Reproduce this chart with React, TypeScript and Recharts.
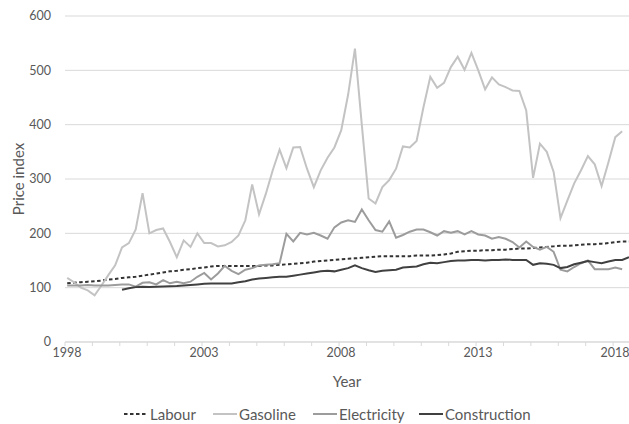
import React from 'react';
import { LineChart, Line, XAxis, YAxis, CartesianGrid, Legend, Label } from 'recharts';

const FONT = 'Lato, "Noto Sans", sans-serif';
const TEXT = '#595959';
const GRID = '#d9d9d9';

const startYear = 1998;
const quarterCount = 83;

// quarterly price indices
const labour = [
  108, 109, 110, 111, 112, 113, 115, 116, 118, 119,
  120, 122, 124, 126, 128, 130, 131, 133, 134, 136,
  137, 139, 140, 140, 140, 140, 140, 140, 140, 141,
  141, 142, 143, 144, 145, 146, 148, 149, 150, 151,
  152, 153, 154, 155, 156, 157, 158, 158, 158, 158,
  158, 159, 159, 159, 160, 161, 163, 166, 167, 168,
  168, 169, 169, 170, 170, 171, 172, 172, 173, 174,
  175, 176, 177, 177, 178, 179, 180, 180, 181, 182,
  184, 185, 185,
];

const gasoline = [
  118, 110, 100, 95, 86, 104, 123, 141, 174, 182,
  207, 274, 200, 206, 209, 184, 156, 187, 175, 200,
  182, 182, 176, 178, 184, 196, 224, 290, 235, 273,
  316, 354, 320, 358, 359, 319, 285, 316, 339, 358,
  390, 455, 540, 400, 264, 255, 285, 298, 319, 360,
  358, 370, 432, 488, 468, 477, 506, 525, 501, 532,
  500, 465, 487, 474, 469, 463, 462, 426, 302, 365,
  350, 313, 228, 260, 292, 316, 342, 327, 287, 331,
  377, 388,
];

const electricity = [
  104, 104, 104, 105, 104, 104, 104, 105, 106, 106,
  102, 109, 110, 106, 114, 108, 111, 108, 111, 120,
  127, 115, 126, 140, 131, 125, 133, 136, 141, 142,
  143, 145, 199, 185, 201, 198, 201, 196, 190, 211,
  220, 224, 221, 244, 224, 206, 203, 222, 192, 197,
  203, 207, 207, 202, 196, 204, 201, 204, 198, 204,
  198, 196, 190, 193, 190, 184, 174, 185, 175, 170,
  175, 166, 133, 130, 138, 145, 150, 134, 134, 134,
  137, 134,
];

const constructionStartIndex = 8;
const construction = [
  96, 99, 101, 101.5, 101, 101.5, 102, 102.5, 103, 104,
  105, 106, 107, 107.5, 107.5, 107.5, 107.5, 110, 112, 115,
  117, 118, 119, 120, 120, 122, 124, 126, 128, 130,
  131, 130, 133, 136, 141, 136, 132, 129, 131, 132,
  133, 137, 138, 139, 143, 146, 145, 147, 149, 150,
  150, 151, 151, 150, 151, 151, 152, 151, 151, 151,
  142, 145, 144, 142, 136, 138, 143, 146, 149, 147,
  145, 148, 151, 151, 156,
];

const yTicks = [0, 100, 200, 300, 400, 500, 600];
const xTicks = [
  1998, 1999, 2000, 2001, 2002, 2003, 2004, 2005, 2006, 2007, 2008,
  2009, 2010, 2011, 2012, 2013, 2014, 2015, 2016, 2017, 2018,
];
const labeledYears = [1998, 2003, 2008, 2013, 2018];

const series = [
  { key: 'labour', name: 'Labour', color: '#333333', dash: '3.5 2.5' },
  { key: 'gasoline', name: 'Gasoline', color: '#c3c3c3', dash: undefined },
  { key: 'electricity', name: 'Electricity', color: '#9c9c9c', dash: undefined },
  { key: 'construction', name: 'Construction', color: '#404040', dash: undefined },
];

const data = Array.from({ length: quarterCount }, (_, i) => ({
  t: startYear + 0.08 + i * 0.25,
  labour: i < labour.length ? labour[i] : null,
  gasoline: i < gasoline.length ? gasoline[i] : null,
  electricity: i < electricity.length ? electricity[i] : null,
  construction:
    i >= constructionStartIndex && i - constructionStartIndex < construction.length
      ? construction[i - constructionStartIndex]
      : null,
}));

const legendLeft = [124, 213, 313, 419];

const LegendContent = () => (
  <div
    style={{
      position: 'relative',
      width: 629,
      height: 20,
      fontFamily: FONT,
      fontSize: 15,
      color: TEXT,
    }}
  >
    {series.map((s, k) => (
      <div
        key={s.key}
        style={{
          position: 'absolute',
          left: legendLeft[k],
          top: 0,
          height: 20,
          display: 'flex',
          alignItems: 'center',
          whiteSpace: 'nowrap',
        }}
      >
        <svg width={24} height={20} style={{ display: 'block' }}>
          <line
            x1={0}
            x2={24}
            y1={10}
            y2={10}
            stroke={s.color}
            strokeWidth={2}
            strokeDasharray={s.dash}
          />
        </svg>
        <span style={{ marginLeft: 2 }}>{s.name}</span>
      </div>
    ))}
  </div>
);

export default function App() {
  return (
    <div style={{ position: 'absolute', left: 0, top: 0, width: 629, height: 424, background: '#fff' }}>
      <LineChart
        width={629}
        height={424}
        data={data}
        margin={{ top: 16, right: 0, bottom: 0, left: 0 }}
      >
        <CartesianGrid vertical={false} stroke={GRID} strokeWidth={1} />
        <XAxis
          dataKey="t"
          type="number"
          domain={[1998, 2018.58]}
          allowDataOverflow
          ticks={xTicks}
          interval={0}
          tickFormatter={(v: number) => (labeledYears.includes(v) ? String(v) : '')}
          height={62}
          axisLine={{ stroke: GRID }}
          tickLine={{ stroke: GRID }}
          tickSize={4}
          tickMargin={2.5}
          tick={{ fill: TEXT, fontSize: 12.5, fontFamily: FONT, dx: 2 }}
        >
          <Label
            value="Year"
            position="insideTop"
            offset={34}
            style={{ fill: TEXT, fontSize: 15, fontFamily: FONT }}
          />
        </XAxis>
        <YAxis
          type="number"
          domain={[0, 600]}
          ticks={yTicks}
          interval={0}
          width={65}
          axisLine={false}
          tickLine={false}
          tickSize={6}
          tickMargin={8}
          tick={{ fill: TEXT, fontSize: 12.5, fontFamily: FONT }}
        >
          <Label
            value="Price index"
            angle={-90}
            position="center"
            dx={-14}
            style={{ fill: TEXT, fontSize: 15, fontFamily: FONT }}
          />
        </YAxis>
        <Legend verticalAlign="bottom" content={() => <LegendContent />} />
        {series.map((s) => (
          <Line
            key={s.key}
            dataKey={s.key}
            name={s.name}
            type="linear"
            stroke={s.color}
            strokeWidth={2}
            strokeDasharray={s.dash}
            dot={false}
            activeDot={false}
            connectNulls={false}
            isAnimationActive={false}
          />
        ))}
      </LineChart>
    </div>
  );
}
